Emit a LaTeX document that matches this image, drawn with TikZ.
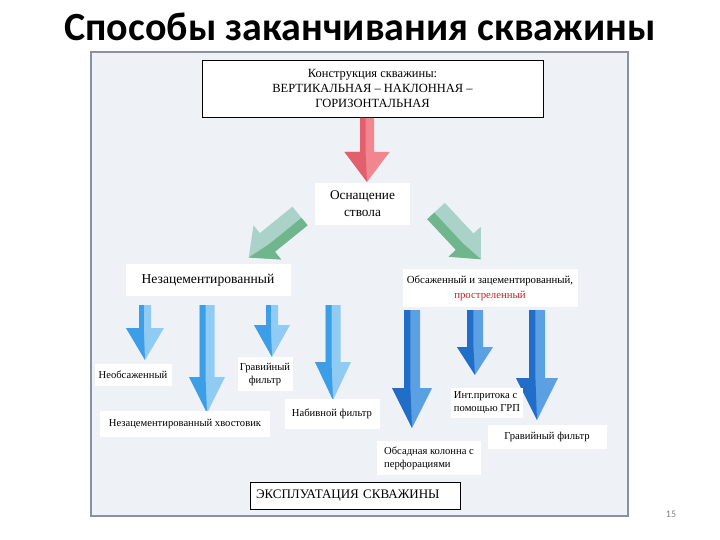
\documentclass[tikz,border=0pt]{standalone}
\usepackage{fontspec}
\setmainfont{Liberation Serif}
\newfontfamily\titlefont{Carlito}
\usepackage{tikz}
\usetikzlibrary{calc,positioning}

\definecolor{panelbg}{HTML}{EEF2F7}
\definecolor{panelrim}{HTML}{8A90A8}
\definecolor{redtxt}{HTML}{D0202A}

\tikzset{
  panel/.style={fill=panelbg, draw=panelrim, line width=1.6pt},
  lbl/.style={fill=white, inner sep=2pt, align=center, font=\fontsize{10.6}{13}\selectfont},
  framedbox/.style={fill=white, draw=black, line width=0.8pt, align=center},
  red top/.style={fill={rgb,255:red,242;green,134;blue,142}},
  red side/.style={fill={rgb,255:red,226;green,96;blue,108}},
  green top/.style={fill={rgb,255:red,170;green,210;blue,200}},
  green side/.style={fill={rgb,255:red,112;green,182;blue,140}},
  pale top/.style={fill={rgb,255:red,144;green,203;blue,244}},
  pale side/.style={fill={rgb,255:red,60;green,158;blue,230}},
  deep top/.style={fill={rgb,255:red,92;green,160;blue,228}},
  deep side/.style={fill={rgb,255:red,32;green,110;blue,200}},
}

% tail, scope options, length, shaft half width, head half width, head length, colour
\newcommand{\blockarrow}[7]{%
  \begin{scope}[shift={#1},#2]
    \fill[#7 top] (-#4,0) -- (#4,0) -- (#4,#3-#6) -- (#5,#3-#6) -- (0,#3) -- (-#5,#3-#6) -- (-#4,#3-#6) -- cycle;
    \fill[#7 side] (-#4,0) -- (-0.2*#4,0) -- (-0.2*#4,#3-#6) -- (0,#3) -- (-#5,#3-#6) -- (-#4,#3-#6) -- cycle;
  \end{scope}}

\begin{document}
\begin{tikzpicture}[x=1pt,y=-1pt]
    \useasboundingbox (0,0) rectangle (720,540);

    \node[font=\titlefont\bfseries\fontsize{40}{44}\selectfont] (title) at (360,27) {Способы заканчивания скважины};
    \node[text=gray, font=\titlefont\fontsize{10}{12}\selectfont] (pagenum) at (671,514) {15};

    \draw[panel] (91,52) rectangle (628,516);

    % top and bottom boxes
    \node[framedbox, minimum width=341pt, minimum height=57pt, font=\fontsize{12.5}{15}\selectfont] (constr) at (372.5,88.5)
        {Конструкция скважины:\\ВЕРТИКАЛЬНАЯ – НАКЛОННАЯ –\\ГОРИЗОНТАЛЬНАЯ};
    \node[framedbox, minimum width=210pt, minimum height=27pt, text width=198pt, align=left,
        font=\fontsize{13}{15}\selectfont] (exploit) at (355,495.5) {ЭКСПЛУАТАЦИЯ СКВАЖИНЫ};

    % red and green arrows
    \blockarrow{(367,118)}{rotate=0}{64}{7}{22.5}{30}{red}
    \blockarrow{(300,216)}{rotate=-51,xscale=-1}{66}{12}{22}{24}{green}
    \blockarrow{(436,211)}{rotate=43}{66}{12}{22}{24}{green}

    \node[lbl, minimum width=95pt, minimum height=42pt, font=\fontsize{13.3}{17}\selectfont] (equip) at (362.5,204) {Оснащение\\ствола};
    \node[lbl, minimum width=165pt, minimum height=32pt, font=\fontsize{13.6}{15}\selectfont] (uncem) at (208,280) {Незацементированный};
    \node[lbl, minimum width=175pt, minimum height=38pt, font=\fontsize{10.8}{15}\selectfont] (cased) at (490,288)
        {Обсаженный и зацементированный,\\\textcolor{redtxt}{простреленный}};

    % left group
    \blockarrow{(145,305)}{rotate=0}{55}{6}{19}{32}{pale}
    \blockarrow{(207,305)}{rotate=0}{108}{7.5}{18}{36}{pale}
    \blockarrow{(272,305)}{rotate=0}{52}{6}{18}{32}{pale}
    \blockarrow{(333,305)}{rotate=0}{95}{7.5}{18}{38}{pale}

    % right group
    \blockarrow{(412,310)}{rotate=0}{118}{8}{20}{40}{deep}
    \blockarrow{(475,310)}{rotate=0}{65}{8}{18}{28}{deep}
    \blockarrow{(537,310)}{rotate=0}{110}{8}{21}{42}{deep}

    \node[lbl, minimum width=77pt, minimum height=22pt] (opens) at (133,375) {Необсаженный};
    \node[lbl, minimum width=170pt, minimum height=26pt] (liner) at (185,424) {Незацементированный хвостовик};
    \node[lbl, minimum width=55pt, minimum height=34pt] (gravl) at (265,374) {Гравийный\\фильтр};
    \node[lbl, minimum width=95pt, minimum height=30pt] (packf) at (332,414) {Набивной фильтр};
    \node[lbl, minimum width=72pt, minimum height=30pt, align=left] (frac) at (487,403) {Инт.притока с\\помощью ГРП};
    \node[lbl, minimum width=119pt, minimum height=24pt] (gravr) at (547,437) {Гравийный фильтр};
    \node[lbl, minimum width=104pt, minimum height=34pt, align=left] (perf) at (429,458) {Обсадная колонна с\\перфорациями};

\end{tikzpicture}
\end{document}
